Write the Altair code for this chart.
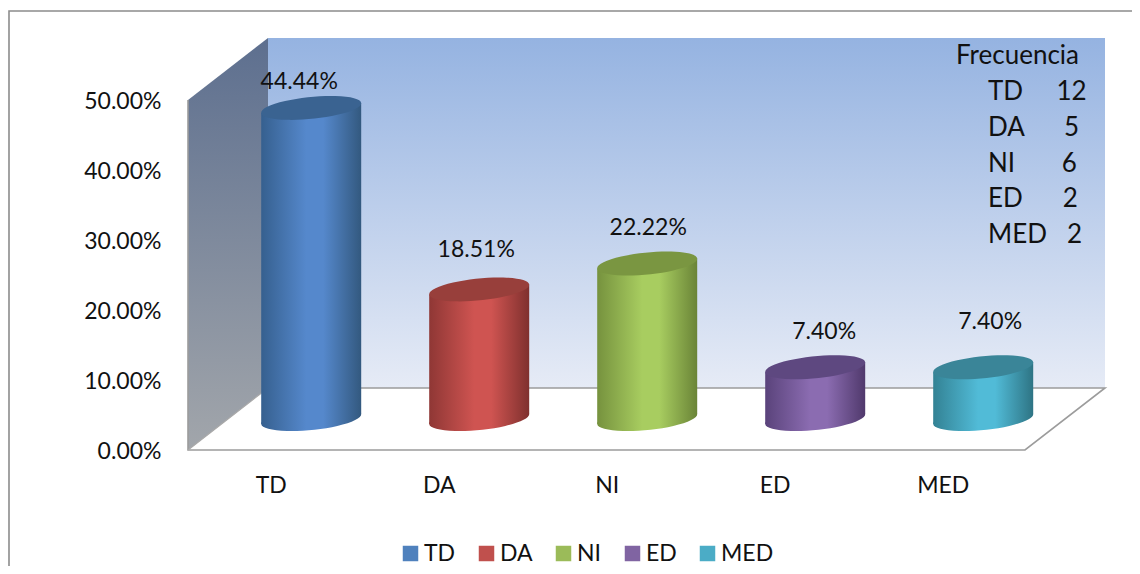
import altair as alt
import pandas as pd

categories = ["TD", "DA", "NI", "ED", "MED"]
values = [44.44, 18.51, 22.22, 7.40, 7.40]
labels = ["44.44%", "18.51%", "22.22%", "7.40%", "7.40%"]
freq_title = "Frecuencia"
NB = "\u00a0"
freq_lines = ["TD" + NB * 5 + "12", "DA" + NB * 6 + "5", "NI" + NB * 7 + "6", "ED" + NB * 6 + "2", "MED" + NB * 3 + "2"]
edge = ["#33597f", "#7f302e", "#6a8437", "#50396c", "#2e7484"]
mid = ["#5588cc", "#cf5451", "#a8cd60", "#8b6cb1", "#51bbd7"]
edge_l = ["#36608f", "#8f3735", "#76923e", "#5a437b", "#338294"]
top = ["#3a6391", "#983f3b", "#7a9641", "#5e4880", "#3a8598"]
legend_cols = ["#4f81bd", "#c0504d", "#9bbb59", "#8064a2", "#4bacc6"]

FONT = "Lato"
FS = 23
NOTE_FS = 26
W, H = 1124, 558
PX = 168.0   # pixels per category
PY = 7.0     # pixels per percent
x_dom = [(8 - 271.7) / PX, (8 + W - 271.7) / PX]
y_dom = [(450 - 8 - H) / PY, (450 - 8) / PY]
xs = alt.Scale(domain=x_dom, nice=False, zero=False)
ys = alt.Scale(domain=y_dom, nice=False, zero=False)
X0, X1 = (188 - 271.7) / PX, (1025 - 271.7) / PX
DX, DY = 80 / PX, 62 / PY
YMAX = 50.0
OFFX, OFFY = 39.5 / PX, 31 / PY
HW = 50 / PX
TILT = 5 / PY
ELL = "M-1,0.1A1.005,0.218,-5.7,1,1,1,-0.1A1.005,0.218,-5.7,1,1,-1,0.1Z"

x_axis = alt.Axis(
    values=[0, 1, 2, 3, 4], orient="bottom", offset=-92, grid=False, ticks=False, domain=False,
    labelExpr="['TD','DA','NI','ED','MED'][datum.value]", title=None, labelFont=FONT, zindex=5,
    labelFontSize=FS, labelColor="#111111", labelPadding=0, labelFlush=False, labelOverlap=False,
    labelOffset=-1)
y_axis = alt.Axis(
    values=[0, 10, 20, 30, 40, 50], orient="left", offset=-153, grid=False, ticks=False, domain=False,
    labelExpr="format(datum.value/100,'.2%')", title=None, labelFont=FONT, labelFontSize=FS, zindex=5,
    labelColor="#111111", labelPadding=0, labelFlush=False, labelOverlap=False, labelOffset=1)


def enc(**kw):
    out = {"x": alt.X("x:Q", scale=xs, axis=x_axis), "y": alt.Y("y:Q", scale=ys, axis=y_axis)}
    out.update(kw)
    return out


def grad(stops, horizontal=False):
    return alt.Gradient(
        gradient="linear",
        stops=[alt.GradientStop(color=c, offset=o) for o, c in stops],
        x1=0, x2=1 if horizontal else 0, y1=0, y2=0 if horizontal else 1,
    )


layers = []

# frame
frame = pd.DataFrame({"x": [x_dom[1], x_dom[0] + 1 / PX, x_dom[0] + 1 / PX],
                      "y": [(450 - 11) / PY, (450 - 11) / PY, y_dom[0]], "o": [0, 1, 2]})
layers.append(alt.Chart(frame).mark_line(color="#8c8c8c", strokeWidth=1.6).encode(
    **enc(order="o:O")))

# back wall
wall = pd.DataFrame({"x": [X0 + DX, X1 + DX], "y": [DY, DY], "y2": [YMAX + DY, YMAX + DY]})
layers.append(alt.Chart(wall).mark_area(
    color=grad([(0, "#95b3e1"), (1, "#e6ebf6")]), opacity=1).encode(
    **enc(y2="y2:Q")))

# side wall
side = pd.DataFrame({"x": [X0, X0 + DX], "y": [0, DY], "y2": [YMAX, YMAX + DY]})
layers.append(alt.Chart(side).mark_area(
    color=grad([(0, "#5d6f8f"), (1, "#a2a6ab")]), opacity=1).encode(
    **enc(y2="y2:Q")))

# floor outline
floor = pd.DataFrame({"x": [X0, X0, X1, X1 + DX, X0 + DX], "y": [YMAX, 0, 0, DY, DY],
                      "o": [0, 1, 2, 3, 4]})
layers.append(alt.Chart(floor).mark_line(color="#9c9c9c", strokeWidth=1.6).encode(**enc(order="o:O")))
slant = pd.DataFrame({"x": [X0, X0 + DX], "y": [0, DY], "o": [0, 1]})
layers.append(alt.Chart(slant).mark_line(color="#a8a8a8", strokeWidth=1.2).encode(**enc(order="o:O")))

# solid core of each cylinder, which also feeds the legend
core = pd.DataFrame({"cat": categories,
                     "x": [i + OFFX - HW / 2 for i in range(5)],
                     "x2": [i + OFFX + HW / 2 for i in range(5)],
                     "y": [v + OFFY for v in values],
                     "y2": [OFFY] * 5})
layers.append(alt.Chart(core).mark_rect().encode(
    **enc(x2="x2:Q", y2="y2:Q",
          color=alt.Color("cat:N", scale=alt.Scale(domain=categories, range=legend_cols),
                          legend=alt.Legend(
                              orient="none", legendX=391, legendY=534, direction="horizontal",
                              columns=5, gridAlign="none", columnPadding=19, title=None, symbolType="square",
                              symbolSize=240, symbolStrokeWidth=0, labelFont=FONT, labelFontSize=FS,
                              labelColor="#111111", labelOffset=2)))))

# cylinders
for i, v in enumerate(values):
    g = grad([(0, edge_l[i]), (0.45, mid[i]), (0.62, mid[i]), (1, edge[i])], horizontal=True)
    cx = i + OFFX
    layers.append(alt.Chart(pd.DataFrame({"x": [cx], "y": [OFFY]})).mark_point(
        shape=ELL, size=10000, filled=True, fill=g, opacity=1, strokeWidth=0).encode(**enc()))
    body = pd.DataFrame({"x": [cx - HW, cx + HW],
                         "y": [v + OFFY - TILT, v + OFFY + TILT],
                         "y2": [OFFY - TILT, OFFY + TILT]})
    layers.append(alt.Chart(body).mark_area(color=g, opacity=1).encode(**enc(y2="y2:Q")))
    layers.append(alt.Chart(pd.DataFrame({"x": [cx], "y": [v + OFFY]})).mark_point(
        shape=ELL, size=10000, filled=True, fill=top[i], opacity=1, strokeWidth=0).encode(**enc()))

# data labels, nudged as in the original
nudge_x = [-12, -3, 1, 9, 7]
nudge_y = [-26, -39, -35, -35, -45]
for i, (v, lab) in enumerate(zip(values, labels)):
    df = pd.DataFrame({"x": [i + OFFX], "y": [v + OFFY], "t": [lab]})
    layers.append(alt.Chart(df).mark_text(
        font=FONT, fontSize=FS, color="#111111", align="center", baseline="middle",
        dx=nudge_x[i], dy=nudge_y[i]).encode(**enc(text="t:N")))

# frequency note
note_y = [48, 84, 120, 156, 191, 227]
layers.append(alt.Chart(pd.DataFrame({"t": [freq_title]})).mark_text(
    font=FONT, fontSize=NOTE_FS, color="#111111", align="left", baseline="middle").encode(
    x=alt.value(948), y=alt.value(note_y[0]), text="t:N"))
for j, line in enumerate(freq_lines):
    layers.append(alt.Chart(pd.DataFrame({"t": [line]})).mark_text(
        font=FONT, fontSize=NOTE_FS, color="#111111", align="left", baseline="middle").encode(
        x=alt.value(980), y=alt.value(note_y[j + 1]), text="t:N"))

chart = alt.layer(*layers).resolve_scale(x="shared", y="shared").properties(
    width=W, height=H, padding=0, background="white",
    autosize=alt.AutoSizeParams(type="none"),
).configure_view(stroke=None)

chart.save("out.html", embed_options={"renderer": "svg", "actions": False})
